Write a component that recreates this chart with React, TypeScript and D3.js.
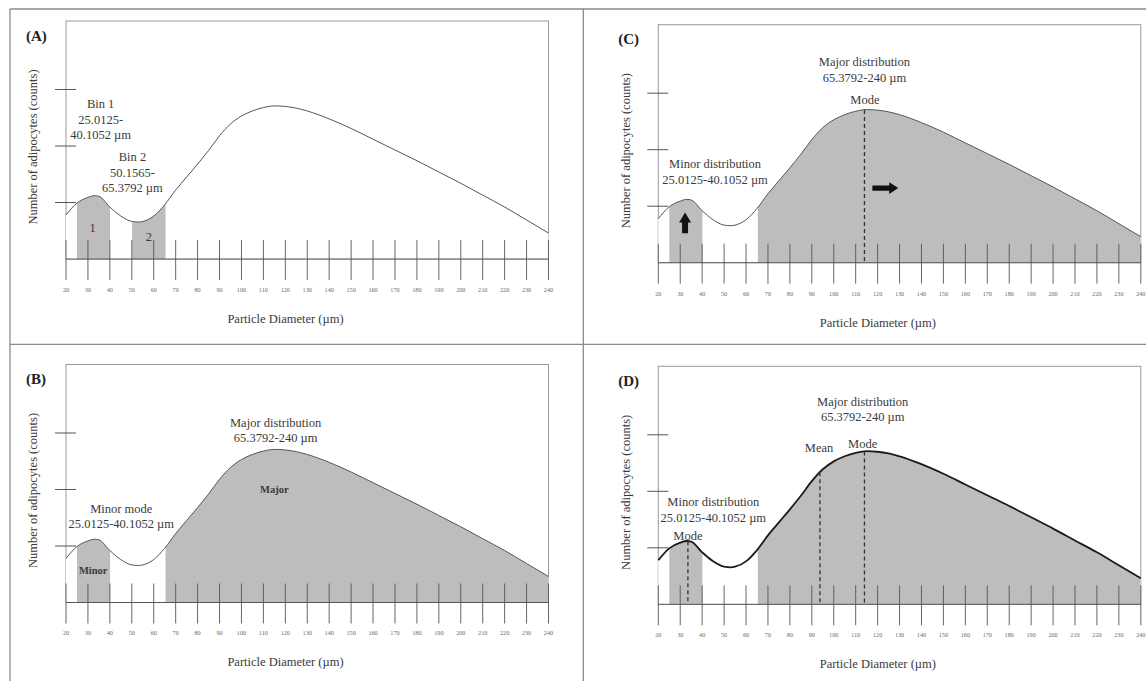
import React from 'react';
import * as d3 from 'd3';

// ---- data ----
const diameters = [20, 25, 30, 33, 35, 40, 45, 50, 53, 55, 60, 65, 70, 75, 80, 85, 90, 95, 100, 105, 110, 115, 120, 125, 130, 140, 150, 160, 170, 180, 190, 200, 210, 220, 230, 240];
const counts = [0.78, 0.99, 1.09, 1.12, 1.11, 0.92, 0.76, 0.665, 0.655, 0.665, 0.76, 0.96, 1.22, 1.45, 1.68, 1.92, 2.18, 2.39, 2.53, 2.62, 2.68, 2.71, 2.70, 2.67, 2.62, 2.48, 2.31, 2.12, 1.93, 1.74, 1.54, 1.34, 1.13, 0.92, 0.69, 0.46];
const xTickValues = d3.range(20, 241, 10);
const yTickValues = [1, 2, 3];
const bin1 = [25.0125, 40.1052];
const bin2 = [50.1565, 65.3792];
const majorRange = [65.3792, 240];
const minorModeX = 33.5;
const majorModeX = 114;
const majorMeanX = 93.7;

const SERIF = '"Liberation Serif", "Times New Roman", Times, serif';
const TEXT = '#3a3a3a';

type Ann = { x: number; y: number; lines: string[]; size?: number; bold?: boolean; lh?: number };
type Panel = {
  letter: string;
  L: number;
  B: number;
  shade: number[][];
  dark?: boolean;
  anns: Ann[];
  dashes: number[];
  upArrow?: { x: number; y0: number; y1: number };
  rightArrow?: { x0: number; x1: number; y: number };
};

const panels: Panel[] = [
  {
    letter: '(A)', L: 66, B: 259, shade: [bin1, bin2], dashes: [],
    anns: [
      { x: 35.8, y: 2.75, lines: ['Bin 1', '25.0125-', '40.1052 µm'], lh: 15.6 },
      { x: 50.3, y: 1.81, lines: ['Bin 2', '50.1565-', '65.3792 µm'], lh: 15.6 },
      { x: 32.1, y: 0.55, lines: ['1'] },
      { x: 57.8, y: 0.39, lines: ['2'] },
    ],
  },
  {
    letter: '(C)', L: 658.3, B: 262.7, shade: [bin1, majorRange], dashes: [majorModeX],
    anns: [
      { x: 114, y: 3.56, lines: ['Major distribution', '65.3792-240 µm'], lh: 15.6 },
      { x: 114.2, y: 2.88, lines: ['Mode'] },
      { x: 45.9, y: 1.75, lines: ['Minor distribution', '25.0125-40.1052 µm'], lh: 15.4 },
    ],
    upArrow: { x: 32.2, y0: 0.52, y1: 0.89 },
    rightArrow: { x0: 117.6, x1: 129.4, y: 1.32 },
  },
  {
    letter: '(B)', L: 66, B: 602.5, shade: [bin1, majorRange], dashes: [],
    anns: [
      { x: 115.6, y: 3.19, lines: ['Major distribution', '65.3792-240 µm'], lh: 15 },
      { x: 45.2, y: 1.67, lines: ['Minor mode', '25.0125-40.1052 µm'], lh: 15.7 },
      { x: 115, y: 2.0, lines: ['Major'], size: 10.5, bold: true },
      { x: 32.4, y: 0.575, lines: ['Minor'], size: 10.5, bold: true },
    ],
  },
  {
    letter: '(D)', L: 658.3, B: 604.3, shade: [bin1, majorRange], dark: true,
    dashes: [minorModeX, majorMeanX, majorModeX],
    anns: [
      { x: 113.2, y: 3.59, lines: ['Major distribution', '65.3792-240 µm'], lh: 15 },
      { x: 93.3, y: 2.77, lines: ['Mean'] },
      { x: 113.2, y: 2.85, lines: ['Mode'] },
      { x: 45.1, y: 1.82, lines: ['Minor distribution', '25.0125-40.1052 µm'], lh: 16 },
      { x: 33.5, y: 1.21, lines: ['Mode'] },
    ],
  },
];

const valueAt = d3.scaleLinear(diameters, counts);

function PanelView({ p, idx }: { p: Panel; idx: number }) {
  const x = d3.scaleLinear([20, 240], [p.L, p.L + 482.5]);
  const y = d3.scaleLinear([0, 3], [p.B, p.B - 169.5]);
  const top = p.B - 238;
  const pts: [number, number][] = diameters.map((d, i) => [d, counts[i]]);
  const area = d3.area<[number, number]>()
    .x((d) => x(d[0]))
    .y0(p.B)
    .y1((d) => y(d[1]))
    .curve(d3.curveMonotoneX);
  const line = d3.line<[number, number]>()
    .x((d) => x(d[0]))
    .y((d) => y(d[1]))
    .curve(d3.curveMonotoneX);
  const areaPath = area(pts) || '';
  const linePath = line(pts) || '';

  return (
    <g>
      <defs>
        {p.shade.map((r, i) => (
          <clipPath id={`clip-${idx}-${i}`} key={i}>
            <rect x={x(r[0])} y={top} width={x(r[1]) - x(r[0])} height={p.B - top} />
          </clipPath>
        ))}
      </defs>
      {/* plot box */}
      <rect x={p.L} y={top} width={482.5} height={p.B - top} fill="none" stroke="#999" strokeWidth={1} />
      {/* white under the curve */}
      <path d={areaPath} fill="#fff" />
      {/* shaded regions */}
      {p.shade.map((r, i) => (
        <path key={i} d={areaPath} fill="#bdbdbd" clipPath={`url(#clip-${idx}-${i})`} />
      ))}
      {/* x ticks */}
      {xTickValues.map((t) => (
        <g key={t}>
          <line x1={x(t)} x2={x(t)} y1={p.B - 19} y2={p.B + 21} stroke="#555" strokeWidth={0.9} />
          <text x={x(t)} y={p.B + 30.8} dy="0.35em" textAnchor="middle" fontFamily={SERIF} fontSize={6.2} fill="#6a6a6a">
            {t}
          </text>
        </g>
      ))}
      {/* baseline */}
      <line x1={p.L} x2={p.L + 482.5} y1={p.B} y2={p.B} stroke="#555" strokeWidth={1} />
      {/* curve */}
      <path d={linePath} fill="none" stroke={p.dark ? '#1a1a1a' : '#555'} strokeWidth={p.dark ? 1.8 : 1} />
      {/* y ticks */}
      {yTickValues.map((t) => (
        <line key={t} x1={p.L - 11} x2={p.L + 10} y1={y(t)} y2={y(t)} stroke="#555" strokeWidth={1} />
      ))}
      {/* dashed markers */}
      {p.dashes.map((d, i) => (
        <line key={i} x1={x(d)} x2={x(d)} y1={y(valueAt(d))} y2={p.B} stroke="#333" strokeWidth={1.3} strokeDasharray="4,3" />
      ))}
      {/* arrows */}
      {p.upArrow && (() => {
        const cx = x(p.upArrow.x);
        const b = y(p.upArrow.y0);
        const t = y(p.upArrow.y1);
        const hl = 10;
        const pts2 = [
          [cx - 3, b], [cx + 3, b], [cx + 3, t + hl], [cx + 6, t + hl], [cx, t], [cx - 6, t + hl], [cx - 3, t + hl],
        ];
        return <polygon points={pts2.map((q) => q.join(',')).join(' ')} fill="#111" />;
      })()}
      {p.rightArrow && (() => {
        const x0 = x(p.rightArrow.x0);
        const x1 = x(p.rightArrow.x1);
        const cy = y(p.rightArrow.y);
        const hl = 9;
        const pts2 = [
          [x0, cy - 2.7], [x1 - hl, cy - 2.7], [x1 - hl, cy - 5.8], [x1, cy], [x1 - hl, cy + 5.8], [x1 - hl, cy + 2.7], [x0, cy + 2.7],
        ];
        return <polygon points={pts2.map((q) => q.join(',')).join(' ')} fill="#111" />;
      })()}
      {/* annotations */}
      {p.anns.map((a, i) => (
        <text key={i} textAnchor="middle" fontFamily={SERIF} fontSize={a.size ?? 12.5} fontWeight={a.bold ? 'bold' : 'normal'} fill={TEXT}>
          {a.lines.map((l, j) => (
            <tspan key={j} x={x(a.x)} y={y(a.y) + j * (a.lh ?? 15.5)} dy="0.35em">{l}</tspan>
          ))}
        </text>
      ))}
      {/* panel letter */}
      <text x={p.L - 40} y={p.B - 218.5} fontFamily={SERIF} fontSize={15} fontWeight="bold" fill="#222">{p.letter}</text>
      {/* axis titles */}
      <text transform={`translate(${p.L - 33},${p.B - 112}) rotate(-90)`} dy="0.35em" textAnchor="middle" fontFamily={SERIF} fontSize={12.5} fill={TEXT}>
        Number of adipocytes (counts)
      </text>
      <text x={p.L + 219.5} y={p.B + 59.5} dy="0.35em" textAnchor="middle" fontFamily={SERIF} fontSize={12.5} fill={TEXT}>
        Particle Diameter (µm)
      </text>
    </g>
  );
}

export default function App() {
  return (
    <svg width={1146} height={681} style={{ position: 'absolute', left: 0, top: 0, background: '#fff' }}>
      <rect x={0} y={0} width={1146} height={681} fill="#fff" />
      {/* outer frame */}
      <g stroke="#8a8a8a" strokeWidth={1.3}>
        <line x1={10} x2={1146} y1={9} y2={9} />
        <line x1={10} x2={10} y1={9} y2={681} />
        <line x1={583.3} x2={583.3} y1={9} y2={681} />
        <line x1={10} x2={1146} y1={344.3} y2={344.3} />
      </g>
      {panels.map((p, i) => (
        <PanelView key={p.letter} p={p} idx={i} />
      ))}
    </svg>
  );
}
